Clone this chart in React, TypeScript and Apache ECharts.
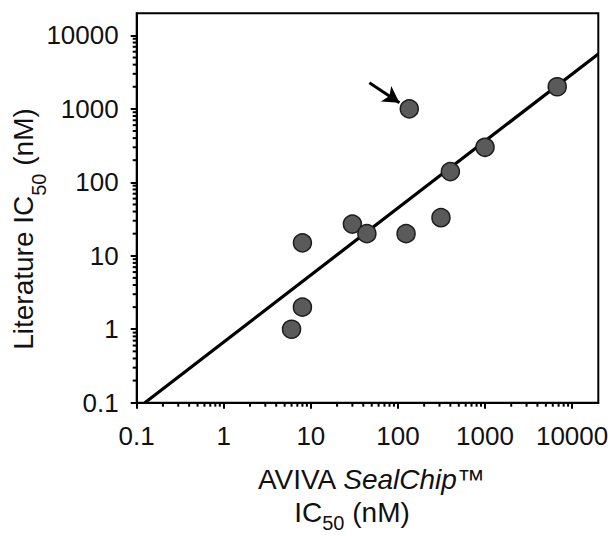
import React, { useEffect, useRef } from 'react';
import * as echarts from 'echarts';

// Data
const sealChipIC50 = [135, 8, 30, 44, 124, 312, 8, 6, 6750, 1000, 400];
const literatureIC50 = [1000, 15, 27, 20, 20, 33, 2, 1, 2000, 300, 140];
const fitLineX = [0.124, 20000];
const fitLineY = [0.1, 5600];
const arrowFrom = [47, 2270];
const arrowTo = [104, 1213];
const axisMin = 0.1;
const axisMax = 20000;
const majorTickLabels = ['0.1', '1', '10', '100', '1000', '10000'];
const minorTickValues = [
  0.2, 0.3, 0.4, 0.5, 0.6, 0.7, 0.8, 0.9,
  2, 3, 4, 5, 6, 7, 8, 9,
  20, 30, 40, 50, 60, 70, 80, 90,
  200, 300, 400, 500, 600, 700, 800, 900,
  2000, 3000, 4000, 5000, 6000, 7000, 8000, 9000,
];

const FONT = '"Liberation Sans", Arial, Helvetica, sans-serif';
const TEXT_COLOR = '#111';

function formatTick(v: number): string {
  const lg = Math.log10(v);
  const r = Math.round(lg);
  if (Math.abs(lg - r) > 1e-6) return '';
  const idx = r + 1;
  return idx >= 0 && idx < majorTickLabels.length ? majorTickLabels[idx] : '';
}

export default function App() {
  const ref = useRef<HTMLDivElement>(null);

  useEffect(() => {
    if (!ref.current) return;
    const chart = echarts.init(ref.current, undefined, { renderer: 'svg' });

    const scatterData = sealChipIC50.map((x, i) => [x, literatureIC50[i]]);
    const lineData = fitLineX.map((x, i) => [x, fitLineY[i]]);

    const axisCommon = {
      type: 'log' as const,
      logBase: 10,
      min: axisMin,
      max: axisMax,
      axisLine: { show: true, onZero: false, lineStyle: { color: '#000', width: 2 } },
      axisTick: { show: true, inside: false, length: 6, lineStyle: { color: '#000', width: 2 } },
      splitLine: { show: false },
      minorTick: { show: false },
      minorSplitLine: { show: false },
    };

    const makeRich = (subPad: number) => ({
      n: { fontSize: 28, fontFamily: FONT, fill: TEXT_COLOR, lineHeight: 34, verticalAlign: 'top' },
      i: { fontSize: 28, fontFamily: FONT, fill: TEXT_COLOR, fontStyle: 'italic', lineHeight: 34, verticalAlign: 'top' },
      s: { fontSize: 20, fontFamily: FONT, fill: TEXT_COLOR, lineHeight: 20, padding: [subPad, 0, 0, 0], verticalAlign: 'top' },
    });

    chart.setOption({
      animation: false,
      backgroundColor: '#fff',
      grid: {
        left: 136.7,
        top: 13.3,
        right: 14.7,
        bottom: 133.3,
        show: true,
        borderColor: '#000',
        borderWidth: 2,
        backgroundColor: 'transparent',
        containLabel: false,
        outerBoundsMode: 'none',
      },
      xAxis: {
        ...axisCommon,
        axisLabel: {
          margin: 20,
          fontSize: 26,
          color: TEXT_COLOR,
          fontFamily: FONT,
          formatter: formatTick,
          showMaxLabel: false,
        },
      },
      yAxis: {
        ...axisCommon,
        axisLabel: {
          margin: 18,
          fontSize: 26,
          color: TEXT_COLOR,
          fontFamily: FONT,
          formatter: formatTick,
          showMaxLabel: false,
        },
      },
      series: [
        {
          type: 'line',
          data: lineData,
          symbol: 'none',
          silent: true,
          lineStyle: { color: '#000', width: 3.2 },
          z: 2,
        },
        {
          type: 'scatter',
          data: scatterData,
          symbol: 'circle',
          symbolSize: 18,
          silent: true,
          itemStyle: { color: '#5a5a5a', borderColor: '#1c1c1c', borderWidth: 1.5, opacity: 1 },
          z: 3,
          markLine: {
            silent: true,
            symbol: ['none', 'arrow'],
            symbolSize: [14, 16],
            label: { show: false },
            lineStyle: { color: '#000', width: 3, type: 'solid' },
            emphasis: { disabled: true },
            data: [[{ coord: arrowFrom }, { coord: arrowTo }]],
          },
        },
        {
          type: 'custom',
          data: minorTickValues.map((v) => [v, axisMin]),
          clip: false,
          silent: true,
          renderItem: (_params: any, api: any) => {
            const p = api.coord([api.value(0), api.value(1)]);
            return {
              type: 'line',
              shape: { x1: p[0], y1: p[1], x2: p[0], y2: p[1] + 4 },
              style: { stroke: '#000', lineWidth: 2 },
            };
          },
          z: 1,
        },
        {
          type: 'custom',
          data: minorTickValues.map((v) => [axisMin, v]),
          clip: false,
          silent: true,
          renderItem: (_params: any, api: any) => {
            const p = api.coord([api.value(0), api.value(1)]);
            return {
              type: 'line',
              shape: { x1: p[0] - 4, y1: p[1], x2: p[0], y2: p[1] },
              style: { stroke: '#000', lineWidth: 2 },
            };
          },
          z: 1,
        },
      ],
      graphic: [
        {
          type: 'text',
          x: 371,
          y: 482,
          silent: true,
          style: {
            text: '{n|AVIVA }{i|SealChip}{n|™}',
            rich: makeRich(20),
            align: 'center',
            verticalAlign: 'middle',
          },
        },
        {
          type: 'text',
          x: 352,
          y: 515,
          silent: true,
          style: {
            text: '{n|IC}{s|50}{n| (nM)}',
            rich: makeRich(15),
            align: 'center',
            verticalAlign: 'middle',
          },
        },
        {
          type: 'text',
          x: 26,
          y: 229,
          rotation: Math.PI / 2,
          silent: true,
          style: {
            text: '{n|Literature IC}{s|50}{n| (nM)}',
            rich: makeRich(20),
            align: 'center',
            verticalAlign: 'middle',
          },
        },
      ],
    });

    return () => {
      chart.dispose();
    };
  }, []);

  return (
    <div
      ref={ref}
      style={{ position: 'fixed', left: 0, top: 0, width: 613, height: 536, background: '#fff' }}
    />
  );
}
